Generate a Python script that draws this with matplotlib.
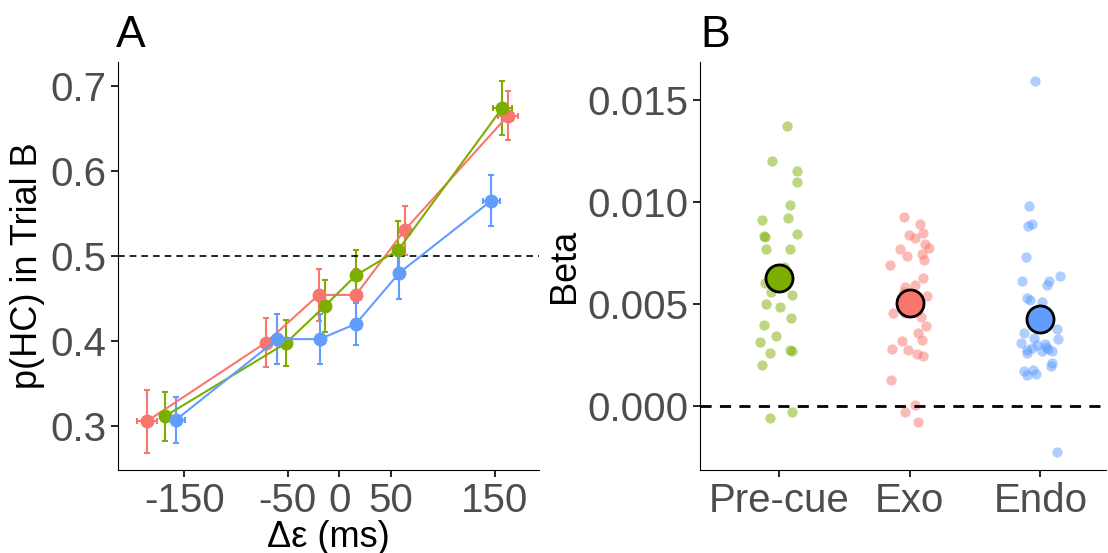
import matplotlib.pyplot as plt
import numpy as np

plt.rcParams['font.family'] = ['Liberation Sans', 'DejaVu Sans']
plt.rcParams['axes.unicode_minus'] = False

# colours (ggplot defaults)
c_red = '#F8766D'
c_green = '#7CAE00'
c_blue = '#619CFF'

# panel A: delta epsilon (ms) vs p(HC)
red_x = [-186, -71, -20, 16, 63, 163]
red_y = [0.3055, 0.398, 0.454, 0.454, 0.530, 0.665]
red_ye = [0.037, 0.029, 0.031, 0.031, 0.029, 0.029]
red_xe = [9.6, 3, 3, 3, 3, 9.6]

green_x = [-169, -52, -14, 16, 57, 157.5]
green_y = [0.311, 0.397, 0.441, 0.477, 0.507, 0.674]
green_ye = [0.029, 0.027, 0.031, 0.030, 0.034, 0.032]
green_xe = [4, 3, 3, 3, 3, 9]

blue_x = [-158, -60, -19, 16, 58, 147]
blue_y = [0.307, 0.402, 0.402, 0.420, 0.480, 0.565]
blue_ye = [0.027, 0.029, 0.029, 0.025, 0.031, 0.030]
blue_xe = [9, 3, 3, 3, 3, 8]

# panel B: beta per subject (x1e-3)
groups = ['Pre-cue', 'Exo', 'Endo']
green_beta = [13.72, 11.99, 11.50, 10.96, 9.85, 9.13, 9.21, 8.34, 8.44, 7.66, 7.69, 6.79, 6.01, 5.56,
              5.45, 5.01, 4.84, 4.32, 3.97, 3.43, 3.14, 2.60, 2.72, 1.98, -0.62, -0.29, 8.29, 2.70]
green_jit = [.061, -.048, .14, .14, .084, -.13, .074, -.112, .14, -.097, .087, .041, -.104, -.061,
             .104, -.099, .01, .097, -.115, -.018, -.14, -.069, .089, -.13, -.066, .102, -.104, .099]
red_beta = [9.26, 8.93, 8.49, 8.39, 8.21, 7.95, 7.70, 7.74, 7.35, 7.44, 7.16, 6.90, 6.28, 5.84, 5.91, 5.56,
            5.38, 4.53, 4.53, 4.34, 3.91, 3.55, 3.19, 3.22, 2.80, 2.75, 2.52, 2.44, 1.26, 0.03, -0.29, -0.81]
red_jit = [-.041, .079, .102, -.008, .043, .117, -.076, .148, -.02, .097, .107, -.148, .102, -.038, .041, -.046,
           .135, -.125, -.038, .087, .127, .061, -.061, .094, -.135, -.015, .056, .104, -.142, .043, -.036, .066]
blue_beta = [15.93, 9.77, 8.80, 8.92, 7.28, 6.12, 6.13, 5.91, 6.36, 5.30, 5.17, 5.07, 3.78, 3.55, 3.34, 3.27, 3.06,
             2.98, 3.03, 2.73, 2.82, 2.70, 2.80, 2.68, 2.08, 1.95, 1.72, 1.75, 1.52, 1.56, -2.27, 2.90, 2.57]
blue_jit = [-.038, -.089, -.097, -.064, -.109, -.137, .069, .051, .148, -.102, -.079, .015, .125, -.127, -.046, .135,
            -.148, -.025, .033, -.102, -.061, .013, .059, .087, .089, .084, -.125, -.059, -.099, -.033, .125, .043, -.102]
means = [6.25, 5.02, 4.25]
mean_se = [0.5, 0.4, 0.4]

fig = plt.figure(figsize=(11.08, 5.53), dpi=100)
axA = fig.add_axes([0.1065, 0.150, 0.380, 0.738])
axB = fig.add_axes([0.632, 0.150, 0.366, 0.738])

for xs, ys, xe, ye, c in [(red_x, red_y, red_xe, red_ye, c_red),
                          (green_x, green_y, green_xe, green_ye, c_green),
                          (blue_x, blue_y, blue_xe, blue_ye, c_blue)]:
    axA.errorbar(xs, ys, yerr=ye, xerr=xe, color=c, marker='o', ms=9, lw=1.5,
                 elinewidth=1.5, capsize=2.5, capthick=1.5)
axA.axhline(0.5, color='black', ls='--', lw=1.2, dashes=(4, 3))
axA.set_xlim(-214, 193)
axA.set_ylim(0.248, 0.728)
axA.set_xticks([-150, -50, 0, 50, 150])
axA.set_yticks([0.3, 0.4, 0.5, 0.6, 0.7])
axA.set_yticklabels(['0.3', '0.4', '0.5', '0.6', '0.7'])
axA.set_xlabel('Δε (ms)', fontsize=26, labelpad=0)
axA.set_ylabel('p(HC) in Trial B', fontsize=26)

for i, (b, j, c) in enumerate([(green_beta, green_jit, c_green), (red_beta, red_jit, c_red),
                               (blue_beta, blue_jit, c_blue)]):
    axB.scatter(np.array(j) + i, np.array(b) / 1000, s=55, color=c, alpha=0.5, lw=0)
    axB.errorbar(i, means[i] / 1000, yerr=mean_se[i] / 1000, color='black', lw=2, capsize=0)
    axB.scatter(i, means[i] / 1000, s=380, color=c, edgecolor='black', lw=2, zorder=5)
axB.axhline(0, color='black', ls='--', lw=2, dashes=(4, 3))
axB.set_xlim(-0.6, 2.5)
axB.set_ylim(-0.00316, 0.01686)
axB.set_xticks([0, 1, 2])
axB.set_xticklabels(groups)
axB.set_yticks([0, 0.005, 0.01, 0.015])
axB.set_yticklabels(['0.000', '0.005', '0.010', '0.015'])
axB.set_ylabel('Beta', fontsize=26)

for ax in (axA, axB):
    ax.spines['top'].set_visible(False)
    ax.spines['right'].set_visible(False)
    ax.tick_params(labelsize=29, labelcolor='#4d4d4d', length=5, width=1.2)

fig.text(0.105, 0.915, 'A', fontsize=32)
fig.text(0.632, 0.915, 'B', fontsize=32)

fig.savefig('out.png', dpi=100)
